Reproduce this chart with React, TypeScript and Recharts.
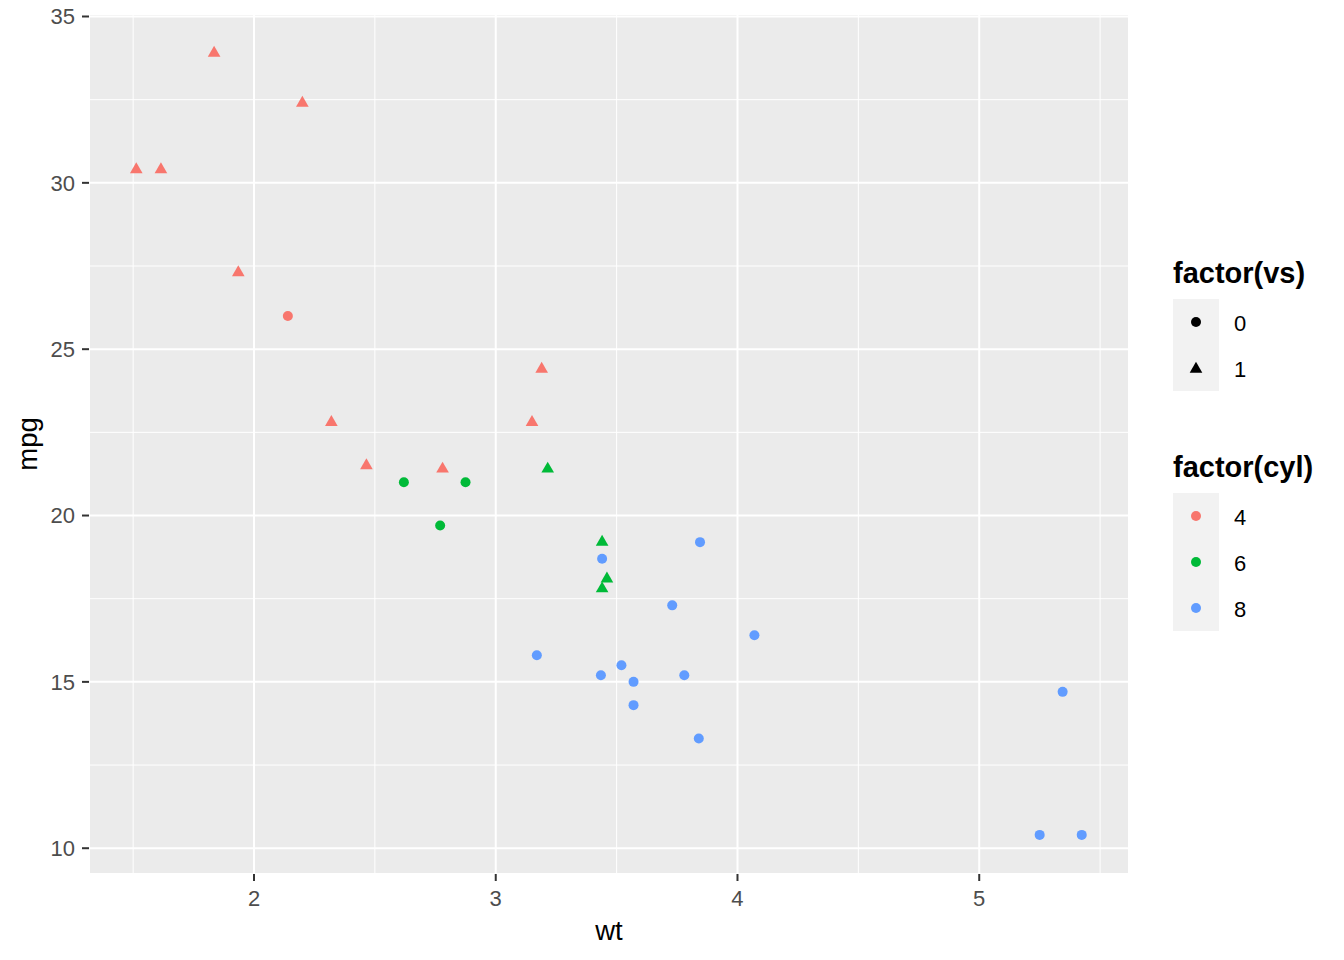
import React from "react";
import {
  ScatterChart,
  Scatter,
  XAxis,
  YAxis,
  CartesianGrid,
  ReferenceLine,
  Label,
} from "recharts";

// mtcars: weight vs mileage, coloured by cylinders, shaped by engine type
const carNames = [
  "Mazda RX4", "Mazda RX4 Wag", "Datsun 710", "Hornet 4 Drive", "Hornet Sportabout",
  "Valiant", "Duster 360", "Merc 240D", "Merc 230", "Merc 280", "Merc 280C",
  "Merc 450SE", "Merc 450SL", "Merc 450SLC", "Cadillac Fleetwood", "Lincoln Continental",
  "Chrysler Imperial", "Fiat 128", "Honda Civic", "Toyota Corolla", "Toyota Corona",
  "Dodge Challenger", "AMC Javelin", "Camaro Z28", "Pontiac Firebird", "Fiat X1-9",
  "Porsche 914-2", "Lotus Europa", "Ford Pantera L", "Ferrari Dino", "Maserati Bora",
  "Volvo 142E",
];
const wt = [
  2.62, 2.875, 2.32, 3.215, 3.44, 3.46, 3.57, 3.19, 3.15, 3.44, 3.44, 4.07, 3.73, 3.78,
  5.25, 5.424, 5.345, 2.2, 1.615, 1.835, 2.465, 3.52, 3.435, 3.84, 3.845, 1.935, 2.14,
  1.513, 3.17, 2.77, 3.57, 2.78,
];
const mpg = [
  21.0, 21.0, 22.8, 21.4, 18.7, 18.1, 14.3, 24.4, 22.8, 19.2, 17.8, 16.4, 17.3, 15.2,
  10.4, 10.4, 14.7, 32.4, 30.4, 33.9, 21.5, 15.5, 15.2, 13.3, 19.2, 27.3, 26.0, 30.4,
  15.8, 19.7, 15.0, 21.4,
];
const cyl = [
  6, 6, 4, 6, 8, 6, 8, 4, 4, 6, 6, 8, 8, 8, 8, 8, 8, 4, 4, 4, 4, 8, 8, 8, 8, 4, 4, 4, 8,
  6, 8, 4,
];
const vs = [
  0, 0, 1, 1, 0, 1, 0, 1, 1, 1, 1, 0, 0, 0, 0, 0, 0, 1, 1, 1, 1, 0, 0, 0, 0, 1, 0, 1, 0,
  0, 0, 1,
];

const xMajorTicks = [2, 3, 4, 5];
const xMinorTicks = [1.5, 2.5, 3.5, 4.5, 5.5];
const yMajorTicks = [10, 15, 20, 25, 30, 35];
const yMinorTicks = [12.5, 17.5, 22.5, 27.5, 32.5];

const vsLevels = [0, 1];
const cylLevels = [4, 6, 8];
const cylColors: Record<number, string> = { 4: "#F8766D", 6: "#00BA38", 8: "#619CFF" };

const FONT = "'Liberation Sans', Arial, sans-serif";

const rows = carNames.map((name, i) => ({
  name,
  wt: wt[i],
  mpg: mpg[i],
  cyl: cyl[i],
  vs: vs[i],
}));

// ggplot-style 5% expansion of the data range
function expand(values: number[]): [number, number] {
  const lo = Math.min(...values);
  const hi = Math.max(...values);
  const pad = (hi - lo) * 0.05;
  return [lo - pad, hi + pad];
}

const xDomain = expand(wt);
const yDomain = expand(mpg);

function Marker({ x, y, shape, color }: { x: number; y: number; shape: number; color: string }) {
  if (shape === 1) {
    const r = 7.3;
    const hw = r * 0.866;
    return (
      <polygon
        points={`${x},${y - r} ${x + hw},${y + r / 2} ${x - hw},${y + r / 2}`}
        fill={color}
      />
    );
  }
  return <circle cx={x} cy={y} r={5} fill={color} />;
}

const PointShape = (props: any) => {
  const { cx, cy, payload } = props;
  if (cx == null || cy == null) return null;
  return <Marker x={cx} y={cy} shape={payload.vs} color={cylColors[payload.cyl]} />;
};

function LegendBlock() {
  return (
    <svg
      width={180}
      height={400}
      style={{ position: "absolute", left: 1164, top: 240 }}
      fontFamily={FONT}
    >
      <g transform="translate(-1164,-240)">
        <text x={1173} y={283} fontSize={29} fontWeight="bold" fill="#000">
          factor(vs)
        </text>
        <rect x={1173} y={299} width={46} height={92} fill="#F2F2F2" />
        {vsLevels.map((v, i) => (
          <g key={v}>
            <Marker x={1196} y={322 + i * 46 + (v === 1 ? 1 : 0)} shape={v} color="#000" />
            <text x={1234} y={322 + i * 46 + 9} fontSize={22} fill="#000">
              {v}
            </text>
          </g>
        ))}
        <text x={1173} y={477} fontSize={29} fontWeight="bold" fill="#000">
          factor(cyl)
        </text>
        <rect x={1173} y={493} width={46} height={138} fill="#F2F2F2" />
        {cylLevels.map((c, i) => (
          <g key={c}>
            <Marker x={1196} y={516 + i * 46} shape={0} color={cylColors[c]} />
            <text x={1234} y={516 + i * 46 + 9} fontSize={22} fill="#000">
              {c}
            </text>
          </g>
        ))}
      </g>
    </svg>
  );
}

export default function App() {
  return (
    <div style={{ position: "relative", width: 1344, height: 960, fontFamily: FONT }}>
      <style>{"body{margin:0}"}</style>
      <ScatterChart
        width={1344}
        height={960}
        margin={{ top: 14, right: 215, bottom: 0, left: 0 }}
      >
        <CartesianGrid
          fill="#EBEBEB"
          stroke="#FFFFFF"
          strokeWidth={2}
          fillOpacity={1}
        />
        {xMinorTicks.map((t) => (
          <ReferenceLine key={"x" + t} x={t} stroke="#FFFFFF" strokeWidth={1} />
        ))}
        {yMinorTicks.map((t) => (
          <ReferenceLine key={"y" + t} y={t} stroke="#FFFFFF" strokeWidth={1} />
        ))}
        <XAxis
          type="number"
          dataKey="wt"
          domain={xDomain}
          ticks={xMajorTicks}
          allowDataOverflow
          height={86}
          axisLine={false}
          tickSize={7}
          tickMargin={9}
          tickLine={{ stroke: "#333333", strokeWidth: 2 }}
          tick={{ fill: "#4D4D4D", fontSize: 22, fontFamily: FONT }}
        >
          <Label
            value="wt"
            position="insideBottom"
            offset={20}
            style={{ fontSize: 27.5, fill: "#000", fontFamily: FONT }}
          />
        </XAxis>
        <YAxis
          type="number"
          dataKey="mpg"
          domain={yDomain}
          ticks={yMajorTicks}
          allowDataOverflow
          width={89}
          axisLine={false}
          tickSize={7}
          tickMargin={7}
          tickLine={{ stroke: "#333333", strokeWidth: 2 }}
          tick={{ fill: "#4D4D4D", fontSize: 22, fontFamily: FONT }}
        >
          <Label
            value="mpg"
            angle={-90}
            position="insideLeft"
            offset={27}
            style={{ fontSize: 27.5, fill: "#000", fontFamily: FONT, textAnchor: "middle" }}
          />
        </YAxis>
        <Scatter data={rows} shape={PointShape} isAnimationActive={false} />
      </ScatterChart>
      <LegendBlock />
    </div>
  );
}
